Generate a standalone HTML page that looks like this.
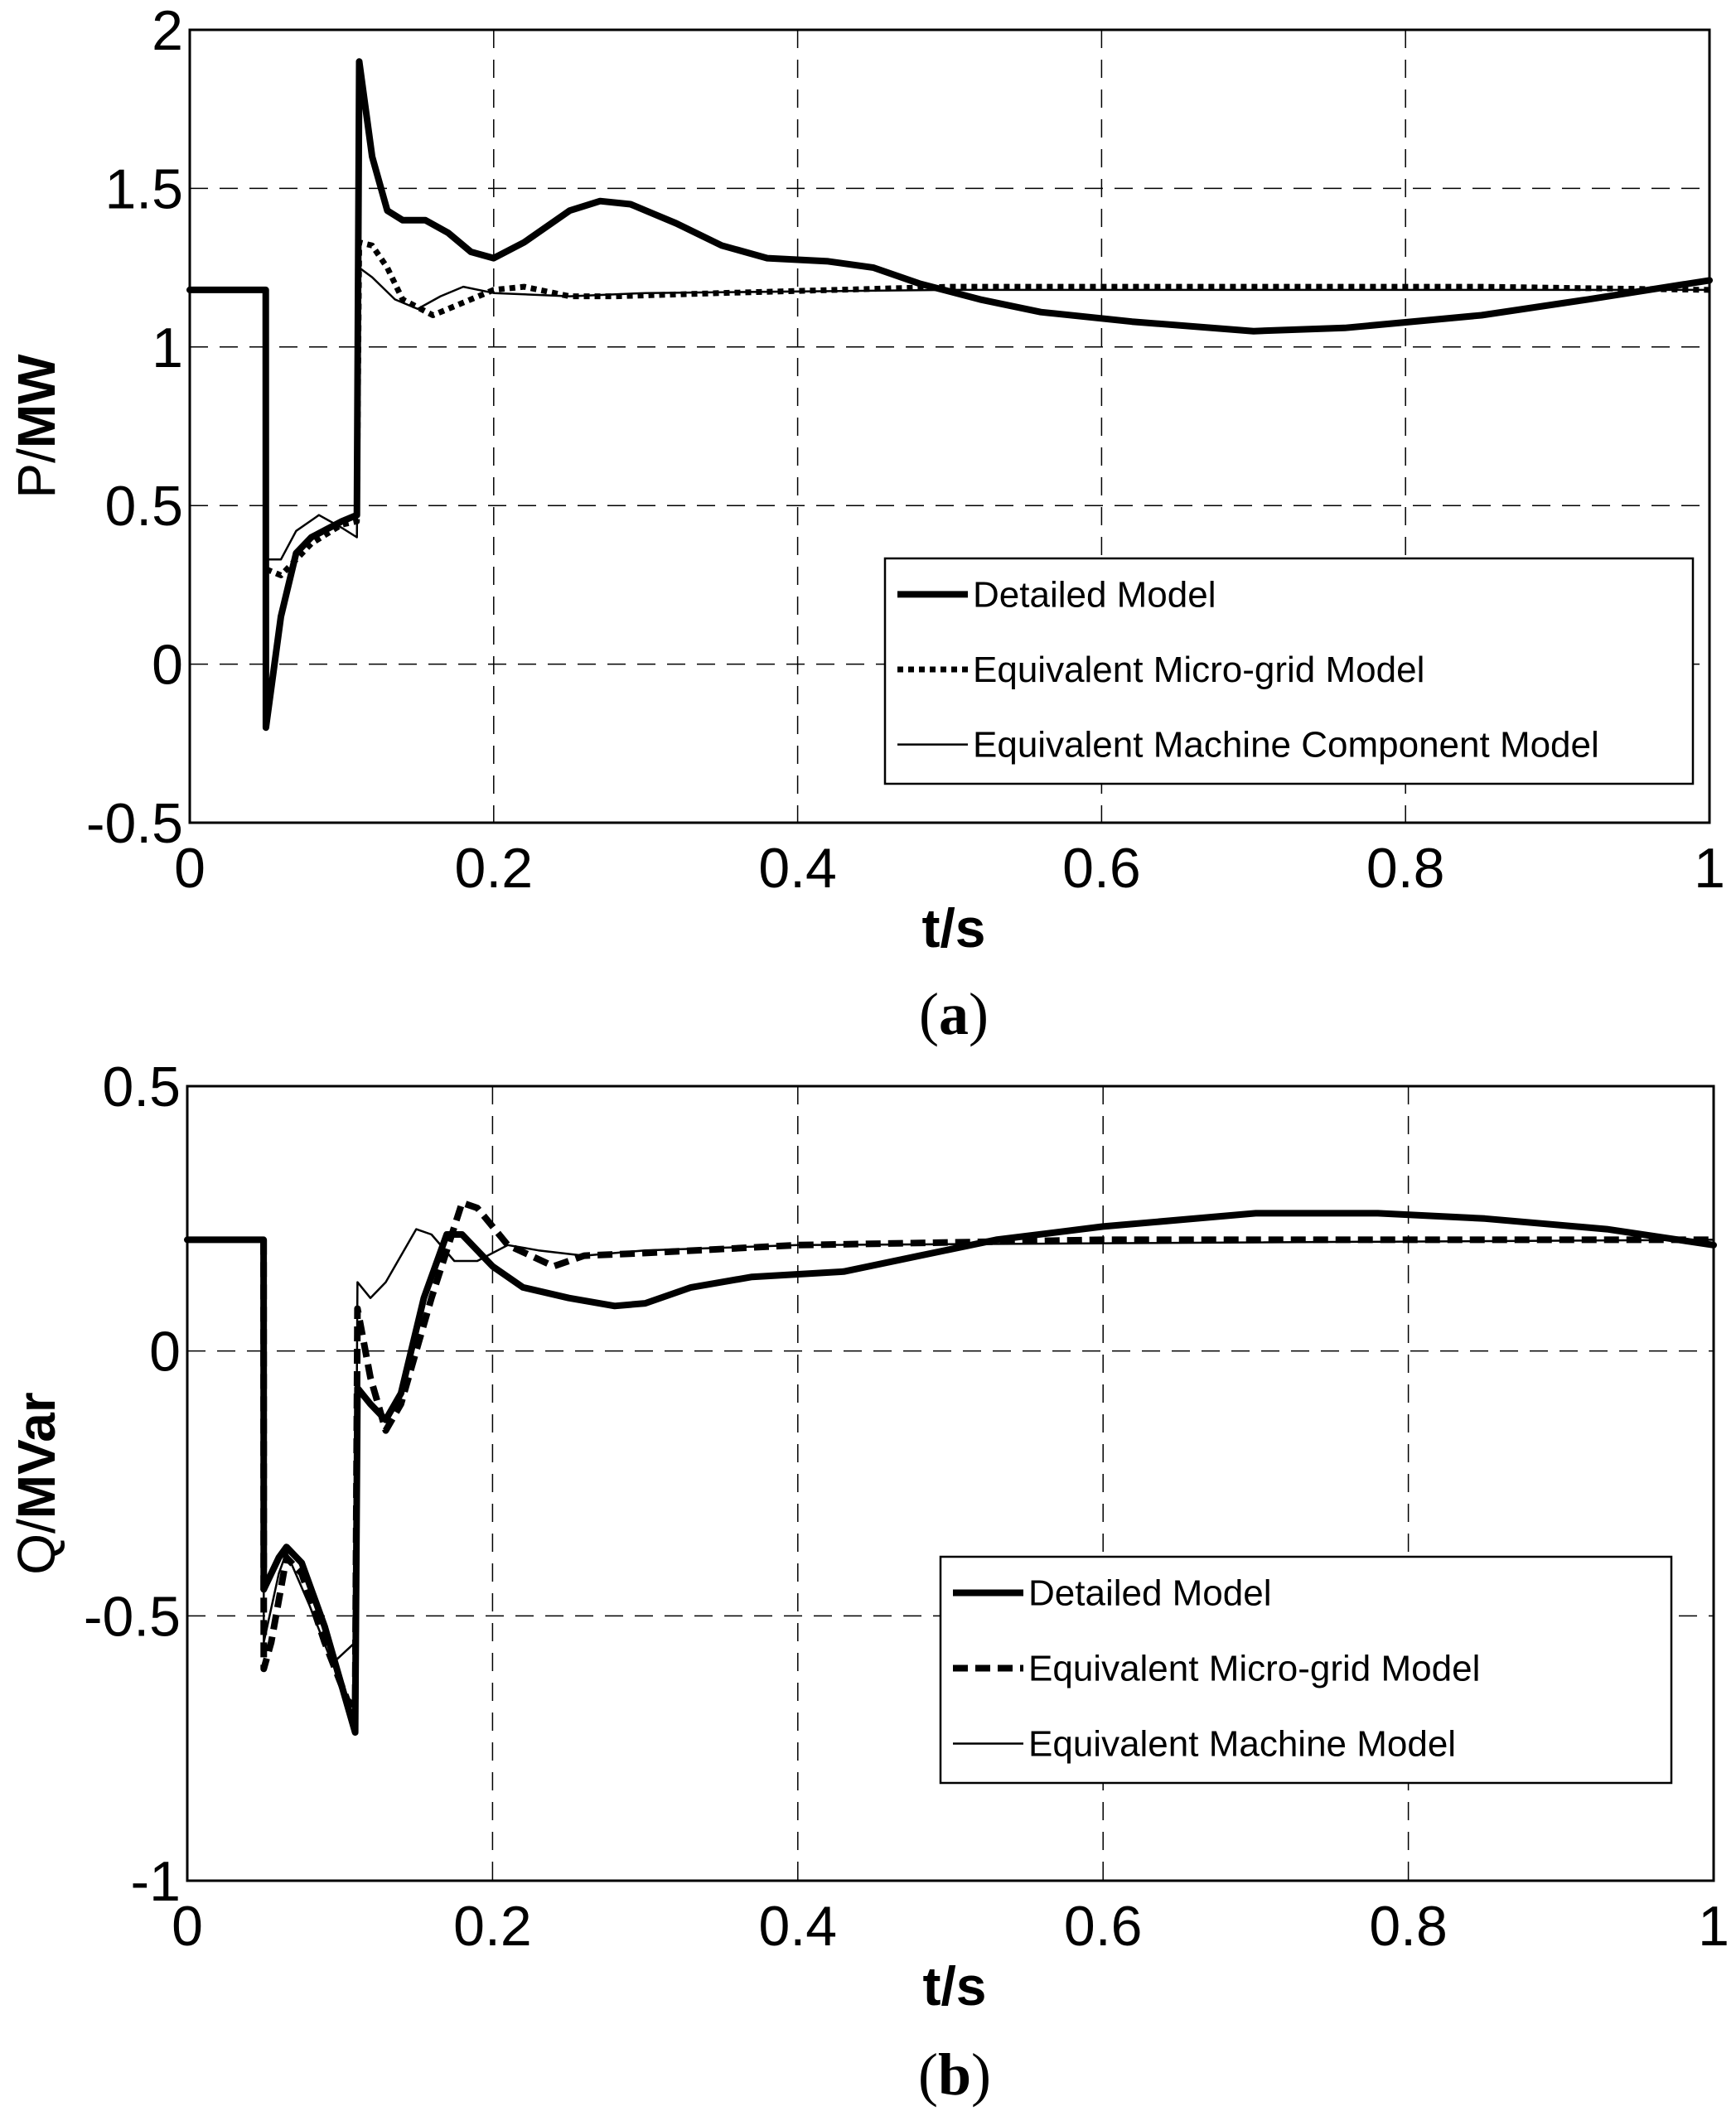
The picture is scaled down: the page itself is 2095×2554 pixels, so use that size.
<!DOCTYPE html>
<html><head><meta charset="utf-8"><style>
html,body{margin:0;padding:0;background:#fff}
svg{display:block}
text{font-family:"Liberation Sans",Arial,sans-serif;fill:#000}
text.cap{font-family:"Liberation Serif",serif}
</style></head><body>
<svg id="fig" width="2095" height="2554" viewBox="0 0 2095 2554" xmlns="http://www.w3.org/2000/svg"></svg>
<script>
// ---- Panel (a) data: P/MW ----
const aDetT = [0,0.05,0.0501,0.06,0.07,0.08,0.10,0.11,0.1115,0.12,0.13,0.14,0.155,0.17,0.185,0.20,0.22,0.25,0.27,0.29,0.32,0.35,0.38,0.42,0.45,0.48,0.52,0.56,0.62,0.70,0.76,0.85,0.92,1.0];
const aDetV = [1.18,1.18,-0.2,0.15,0.35,0.40,0.45,0.47,1.9,1.6,1.43,1.40,1.40,1.36,1.30,1.28,1.33,1.43,1.46,1.45,1.39,1.32,1.28,1.27,1.25,1.20,1.15,1.11,1.08,1.05,1.06,1.10,1.15,1.21];
const aMgT = [0,0.05,0.0501,0.06,0.07,0.08,0.10,0.11,0.1115,0.12,0.13,0.14,0.16,0.18,0.20,0.22,0.25,0.28,0.35,0.50,0.70,0.85,1.0];
const aMgV = [1.18,1.18,0.30,0.28,0.33,0.38,0.44,0.45,1.33,1.32,1.25,1.15,1.10,1.14,1.18,1.19,1.16,1.16,1.17,1.19,1.19,1.19,1.18];
const aMcT = [0,0.05,0.0501,0.06,0.07,0.085,0.10,0.11,0.1115,0.12,0.135,0.15,0.165,0.18,0.20,0.25,0.30,0.50,1.0];
const aMcV = [1.18,1.18,0.33,0.33,0.42,0.47,0.43,0.40,1.25,1.22,1.15,1.12,1.16,1.19,1.17,1.16,1.17,1.18,1.18];
const aYTicks = [-0.5,0,0.5,1,1.5,2];
const aYLabels = ["-0.5","0","0.5","1","1.5","2"];
// ---- Panel (b) data: Q/MVar ----
const bDetT = [0,0.05,0.0501,0.06,0.065,0.075,0.09,0.10,0.11,0.1115,0.12,0.13,0.14,0.155,0.17,0.18,0.20,0.22,0.25,0.28,0.30,0.33,0.37,0.43,0.48,0.53,0.60,0.70,0.78,0.85,0.93,1.0];
const bDetV = [0.21,0.21,-0.45,-0.39,-0.37,-0.40,-0.52,-0.62,-0.72,-0.07,-0.10,-0.13,-0.08,0.10,0.22,0.22,0.16,0.12,0.10,0.085,0.09,0.12,0.14,0.15,0.18,0.21,0.235,0.26,0.26,0.25,0.23,0.20];
const bMgT = [0.05,0.0501,0.055,0.065,0.075,0.09,0.105,0.11,0.1115,0.12,0.13,0.14,0.16,0.18,0.19,0.21,0.24,0.26,0.30,0.40,0.60,0.80,1.0];
const bMgV = [0.21,-0.60,-0.55,-0.39,-0.42,-0.55,-0.66,-0.67,0.08,-0.05,-0.15,-0.10,0.10,0.28,0.27,0.20,0.16,0.18,0.185,0.20,0.21,0.21,0.21];
const bMcT = [0.05,0.0501,0.06,0.065,0.08,0.095,0.11,0.1115,0.12,0.13,0.15,0.16,0.175,0.19,0.21,0.23,0.26,0.30,0.40,1.0];
const bMcV = [0.21,-0.55,-0.42,-0.38,-0.48,-0.59,-0.55,0.13,0.10,0.13,0.23,0.22,0.17,0.17,0.20,0.19,0.18,0.19,0.20,0.21];
const bYTicks = [-1,-0.5,0,0.5];
const bYLabels = ["-1","-0.5","0","0.5"];
const xTicks = [0,0.2,0.4,0.6,0.8,1];
const xLabels = ["0","0.2","0.4","0.6","0.8","1"];

const NS="http://www.w3.org/2000/svg";
const svg=document.getElementById('fig');
function mk(tag,attrs,parent){const e=document.createElementNS(NS,tag);for(const k in attrs)e.setAttribute(k,attrs[k]);(parent||svg).appendChild(e);return e;}

function panel(cfg){
  const g=mk('g',{});
  
  
  const xs=t=>cfg.L+(t-0)/(1-0)*(cfg.R-cfg.L);
  const ys=v=>cfg.B-(v-cfg.ymin)/(cfg.ymax-cfg.ymin)*(cfg.B-cfg.T);
  xTicks.forEach((t,i)=>{
    if(i>0&&i<xTicks.length-1){
      const l=mk('line',{x1:xs(t),x2:xs(t),y1:cfg.T,y2:cfg.B,stroke:'#000','stroke-width':1.5,'stroke-dasharray':'22 14'},g);
      
      
    }
    const tx=mk('text',{x:xs(t),y:cfg.B+78,'font-size':68,'text-anchor':'middle'},g);
    tx.textContent=xLabels[i];
    
    
  });
  cfg.yt.forEach((v,i)=>{
    if(i>0&&i<cfg.yt.length-1){
      const l=mk('line',{x1:cfg.L,x2:cfg.R,y1:ys(v),y2:ys(v),stroke:'#000','stroke-width':1.5,'stroke-dasharray':'22 14'},g);
      
      
    }
    const tx=mk('text',{x:cfg.L-8,y:ys(v)+24,'font-size':68,'text-anchor':'end'},g);
    tx.textContent=cfg.yl[i];
    
    
  });
  function series(T,V,w,dash,name){
    const p=T.map((t,i)=>xs(t).toFixed(1)+','+ys(V[i]).toFixed(1)).join(' ');
    const a={points:p,fill:'none',stroke:'#000','stroke-width':w,'stroke-linejoin':'round','stroke-linecap':dash?'butt':'round'};
    if(dash)a['stroke-dasharray']=dash;
    const l=mk('polyline',a,g);
    
    
  }
  series(cfg.mcT,cfg.mcV,2.5,null,'machine-model-line');
  series(cfg.mgT,cfg.mgV,cfg.mgW,cfg.mgDash,'micro-grid-model-line');
  series(cfg.detT,cfg.detV,8,null,'detailed-model-line');
  const fr=mk('rect',{x:cfg.L,y:cfg.T,width:cfg.R-cfg.L,height:cfg.B-cfg.T,fill:'none',stroke:'#000','stroke-width':3},g);
  
  
  const xt=mk('text',{x:(cfg.L+cfg.R)/2+5,y:cfg.B+150,'font-size':66,'font-weight':'bold','text-anchor':'middle'},g);
  xt.textContent='t/s';
  
  
  const cy=(cfg.T+cfg.B)/2;
  const yt=mk('text',{x:0,y:0,'font-size':64,'text-anchor':'middle',transform:`translate(66,${cy}) rotate(-90)`},g);
  yt.innerHTML=`<tspan>${cfg.yq}/</tspan><tspan font-weight="bold">${cfg.yu}</tspan>`;
  
  
  const lg=mk('g',{},g);
  
  
  const lb=mk('rect',{x:cfg.lg[0],y:cfg.lg[1],width:cfg.lg[2]-cfg.lg[0],height:cfg.lg[3]-cfg.lg[1],fill:'#fff',stroke:'#000','stroke-width':2.5},lg);
  
  
  const rowH=(cfg.lg[3]-cfg.lg[1])/3;
  const items=[['Detailed Model',8,null],['Equivalent Micro-grid Model',cfg.mgW,cfg.mgDash],[cfg.mcLabel,2.5,null]];
  items.forEach((it,i)=>{
    const y=cfg.lg[1]+rowH*(i+0.5)-2;
    const a={x1:cfg.lg[0]+15,x2:cfg.lg[0]+100,y1:y,y2:y,stroke:'#000','stroke-width':it[1]};
    if(it[2])a['stroke-dasharray']=it[2];
    const sw=mk('line',a,lg);
    
    
    const tx=mk('text',{x:cfg.lg[0]+106,y:y+15,'font-size':44},lg);
    tx.textContent=it[0];
    
    
  });
  const cap=mk('text',{x:(cfg.L+cfg.R)/2+5,y:cfg.capY,'font-size':72,'class':'cap','text-anchor':'middle'},g);
  cap.innerHTML='(<tspan font-weight="bold">'+cfg.cap+'</tspan>)';
  
  
}

panel({name:'panel-a-active-power',L:229,R:2063,T:36,B:993,ymin:-0.5,ymax:2,yt:aYTicks,yl:aYLabels,
  detT:aDetT,detV:aDetV,mgT:aMgT,mgV:aMgV,mcT:aMcT,mcV:aMcV,mgW:7,mgDash:'7 6',
  yq:'P',yu:'MW',lg:[1068,674,2043,946],mcLabel:'Equivalent Machine Component Model',cap:'a',capY:1248});
panel({name:'panel-b-reactive-power',L:226,R:2068,T:1311,B:2270,ymin:-1,ymax:0.5,yt:bYTicks,yl:bYLabels,
  detT:bDetT,detV:bDetV,mgT:bMgT,mgV:bMgV,mcT:bMcT,mcV:bMcV,mgW:8,mgDash:'18 9',
  yq:'Q',yu:'MVar',lg:[1135,1879,2017,2152],mcLabel:'Equivalent Machine Model',cap:'b',capY:2528});
</script>
</body></html>
